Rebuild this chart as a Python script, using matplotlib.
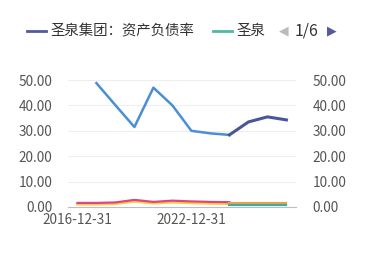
import numpy as np
import matplotlib.pyplot as plt

plt.rcParams['font.family'] = ['Noto Sans CJK SC', 'DejaVu Sans']

years = ["2016-12-31", "2017-12-31", "2018-12-31", "2019-12-31", "2020-12-31", "2021-12-31",
         "2022-12-31", "2023-12-31", "2024-12-31", "2025-12-31", "2026-12-31", "2027-12-31"]
hist_ratio = [np.nan, 48.8, 40.1, 31.5, 47.0, 40.0, 30.0, 29.0, 28.4, np.nan, np.nan, np.nan]
fcst_ratio = [np.nan, np.nan, np.nan, np.nan, np.nan, np.nan, np.nan, np.nan, 28.4, 33.5, 35.5, 34.3]
pink = [1.6, 1.6, 1.8, 2.8, 2.0, 2.5, 2.2, 2.0, 1.9, np.nan, np.nan, np.nan]
yellow = [1.0, 1.0, 1.2, 2.1, 1.4, 1.8, 1.5, 1.3, 1.2, np.nan, np.nan, np.nan]
orange = [np.nan] * 8 + [1.7, 1.7, 1.7, 1.7]
teal = [np.nan] * 8 + [0.8, 0.8, 0.8, 0.8]
yticks = [0, 10, 20, 30, 40, 50]

fig = plt.figure(figsize=(3.69, 2.76), dpi=100)
ax = fig.add_axes([0.184, 0.25, 0.618, 0.46])
x = np.arange(len(years))

ax.plot(x, yellow, color="#f5cf4a", lw=1.6)
ax.plot(x, pink, color="#e0457b", lw=1.6)
ax.plot(x, orange, color="#f0a04a", lw=1.6)
ax.plot(x, teal, color="#3aaf9f", lw=1.6)
ax.plot(x, hist_ratio, color="#4a8fd6", lw=1.8)
ax.plot(x, fcst_ratio, color="#4b5699", lw=2.2)

ax.set_xlim(-0.5, len(years) - 0.5)
ax.set_ylim(0, 50)
ax.set_yticks(yticks)
ax.set_yticklabels([f"{v:.2f}" for v in yticks])
ax.set_xticks([0, 6])
ax.set_xticklabels([years[0], years[6]])
ax.grid(axis="y", color="#eeeeee", lw=0.8)
ax.set_axisbelow(True)
for s in ["top", "right", "left"]:
    ax.spines[s].set_visible(False)
ax.spines["bottom"].set_color("#b8bccb")
ax.tick_params(axis="both", length=0, labelsize=9.8, colors="#555555")
ax.tick_params(axis="y", pad=11)
ax.tick_params(axis="x", pad=4)

ax2 = ax.twinx()
ax2.set_ylim(0, 50)
ax2.set_yticks(yticks)
ax2.set_yticklabels([f"{v:.2f}" for v in yticks])
for s in ["top", "right", "left", "bottom"]:
    ax2.spines[s].set_visible(False)
ax2.tick_params(axis="y", length=0, labelsize=9.8, colors="#555555", pad=12)

# legend row
ly = 1 - 31 / 276
fig.lines.append(plt.Line2D([27 / 369, 46 / 369], [ly] * 2, color="#53599a", lw=2, transform=fig.transFigure))
fig.text(50 / 369, ly, "圣泉集团：资产负债率", fontsize=10.4, color="#333333", va="center")
fig.lines.append(plt.Line2D([213 / 369, 232 / 369], [ly] * 2, color="#4fb9a8", lw=2, transform=fig.transFigure))
fig.text(236 / 369, ly, "圣泉", fontsize=10.4, color="#333333", va="center")
fig.text(279 / 369, ly, "◀", fontsize=9, color="#bbbbbb", va="center", family="DejaVu Sans")
fig.text(295 / 369, ly, "1/6", fontsize=11.5, color="#333333", va="center")
fig.text(327 / 369, ly, "▶", fontsize=9, color="#53599a", va="center", family="DejaVu Sans")

fig.savefig("out.png", dpi=100)
